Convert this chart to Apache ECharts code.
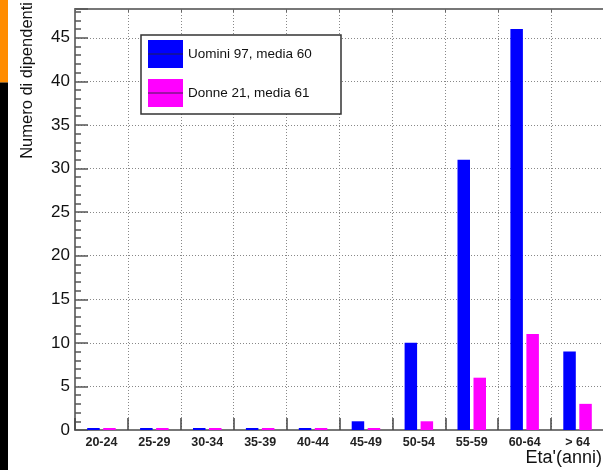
<!DOCTYPE html>
<html>
<head>
<meta charset="utf-8">
<script src="https://cdn.jsdelivr.net/npm/echarts@6/dist/echarts.min.js"></script>
<style>
html,body{margin:0;padding:0;background:#fff;}
#chart{width:603px;height:470px;}
</style>
</head>
<body>
<div id="chart"></div>
<script>
const categories = ['20-24','25-29','30-34','35-39','40-44','45-49','50-54','55-59','60-64','> 64'];
const uomini = [0,0,0,0,0,1,10,31,46,9];
const donne = [0,0,0,0,0,0,1,6,11,3];
const seriesNames = ['Uomini 97, media 60','Donne 21, media 61'];
const yMax = 48.3;

const FONT = 'Liberation Sans, Arial, Helvetica, sans-serif';
const chart = echarts.init(document.getElementById('chart'), null, {renderer:'canvas'});
const option = {
  backgroundColor:'#fff',
  animation:false,
  grid:{left:75, top:9, width:529, bottom:40, containLabel:false, outerBoundsMode:'none'},
  legend:{
    left:148, top:40, orient:'vertical', itemWidth:35, itemHeight:28, itemGap:11, padding:0,
    icon:'rect', z:6,
    textStyle:{fontFamily:FONT, fontSize:13.5, color:'#111'},
    data:seriesNames
  },
  xAxis:[{
    type:'category', data:categories, position:'bottom',
    axisLine:{show:true, lineStyle:{color:'#777', width:2}},
    axisTick:{show:true, inside:true, length:12, lineStyle:{color:'#444', width:1.5}},
    axisLabel:{fontFamily:FONT, fontSize:12.5, fontWeight:'bold', color:'#222', margin:6, interval:0},
    splitLine:{show:true, interval:0, lineStyle:{color:'#888', type:[1,2], width:1}},
    name:"Eta'(anni)", nameLocation:'end', nameGap:-2,
    nameTextStyle:{fontFamily:FONT, fontSize:18, color:'#111', align:'right', verticalAlign:'top', padding:[19,0,0,0]}
  },{
    type:'category', data:categories, position:'top',
    axisLine:{show:true, lineStyle:{color:'#777', width:2}},
    axisTick:{show:true, inside:true, length:3, lineStyle:{color:'#666', width:1}},
    axisLabel:{show:false}, splitLine:{show:false}
  }],
  yAxis:{
    type:'value', min:0, max:yMax, interval:5,
    axisLine:{show:true, lineStyle:{color:'#777', width:2}},
    axisTick:{show:true, inside:true, length:13, lineStyle:{color:'#555', width:1.5}},
    minorTick:{show:true, splitNumber:5, length:6, lineStyle:{color:'#555', width:1.5}},
    axisLabel:{fontFamily:FONT, fontSize:17, color:'#111', margin:5,
      formatter:function(v){ return (v % 5 === 0) ? String(v) : ''; }},
    splitLine:{show:true, lineStyle:{color:'#888', type:[1,2], width:1}}
  },
  series:[
    {name:seriesNames[0], type:'bar', data:uomini, barWidth:12.5, barGap:'28%', barMinHeight:2,
     itemStyle:{color:'#0000FF'}, xAxisIndex:0},
    {name:seriesNames[1], type:'bar', data:donne, barWidth:12.5, barGap:'28%', barMinHeight:2,
     itemStyle:{color:'#FF00FF'}, xAxisIndex:0}
  ],
  graphic:[
    {type:'rect', shape:{x:0,y:0,width:8,height:82.6}, style:{fill:'#FF8C00'}, z:10},
    {type:'rect', shape:{x:0,y:82.6,width:8,height:388}, style:{fill:'#000'}, z:10},
    {type:'text', x:27, y:2, rotation:Math.PI/2,
     style:{text:'Numero di dipendenti', font:'16.5px ' + FONT, fill:'#111', align:'right', verticalAlign:'middle'}, z:10},
    {type:'rect', shape:{x:141,y:35,width:200,height:79}, style:{fill:'#fff', stroke:'#333', lineWidth:1.5}, z:3},
    {type:'line', shape:{x1:148,y1:54,x2:183,y2:54}, style:{stroke:'#202050', lineWidth:1}, z:20},
    {type:'line', shape:{x1:148,y1:93,x2:183,y2:93}, style:{stroke:'#402050', lineWidth:1}, z:20}
  ]
};
chart.setOption(option);
</script>
</body>
</html>
